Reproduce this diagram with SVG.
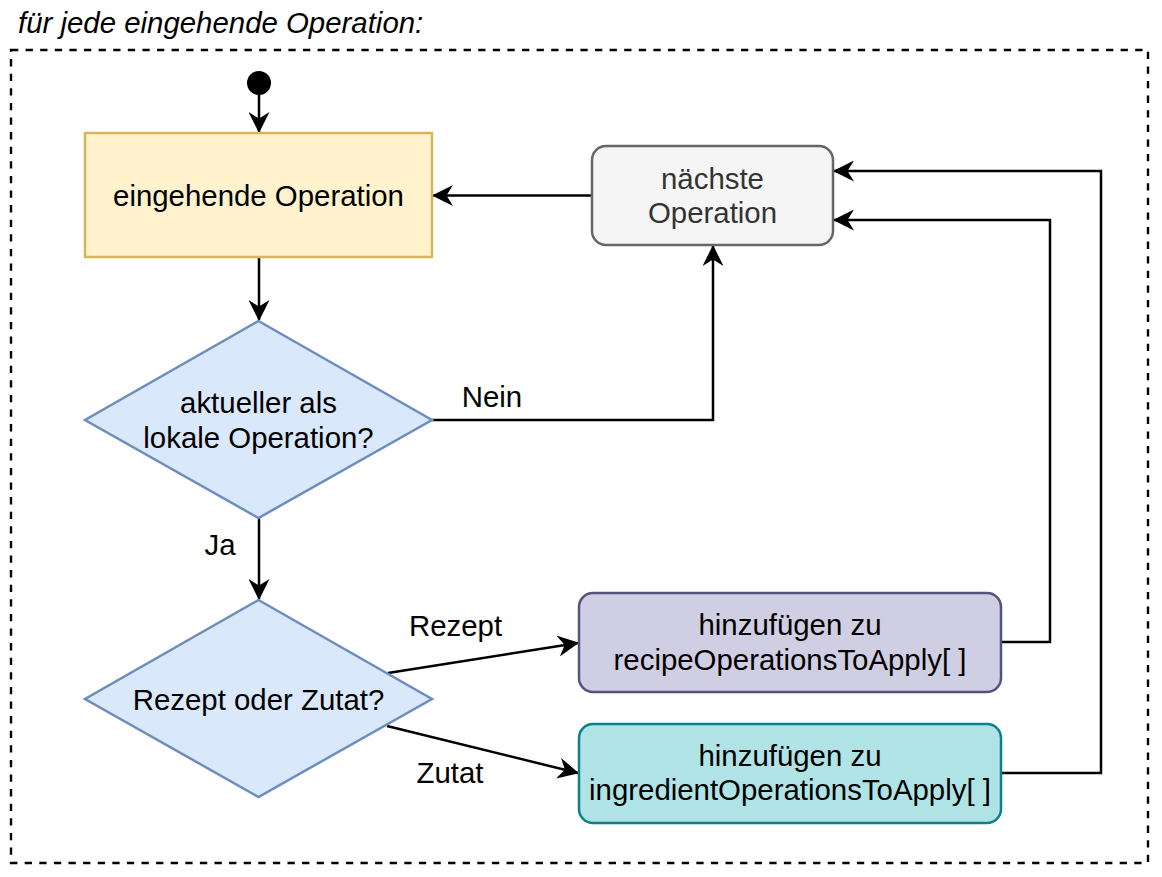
<svg xmlns="http://www.w3.org/2000/svg" width="1162" height="877" viewBox="0 0 1162 877">
<defs>
<style>
text{font-family:"Liberation Sans",Arial,Helvetica,sans-serif;font-size:29.4px;fill:#000;text-anchor:middle}
.title{font-style:italic;text-anchor:start}
.edge{fill:none;stroke:#000;stroke-width:2.5}
.frame{fill:none;stroke:#000;stroke-width:2.4;stroke-dasharray:7.3 7.3}
.node{stroke-width:2.5}
</style>
<marker id="arr" viewBox="0 0 21 21" markerWidth="21" markerHeight="21" refX="20" refY="10.5" orient="auto" markerUnits="userSpaceOnUse">
<path d="M0,0 L21,10.5 L0,21 L6.5,10.5 Z" fill="#000"/>
</marker>
</defs>
<rect width="1162" height="877" fill="#fff"/>
<g id="title">
<text class="title" x="18" y="33">für jede eingehende Operation:</text>
</g>
<g id="frame">
<rect class="frame" x="11" y="50" width="1137" height="813"/>
</g>
<g id="connectors">
<path class="edge" d="M259,95 V132" marker-end="url(#arr)"/>
<path class="edge" d="M259,257 V320" marker-end="url(#arr)"/>
<path class="edge" d="M432,420 H713 V246" marker-end="url(#arr)"/>
<path class="edge" d="M592,195.5 H433" marker-end="url(#arr)"/>
<path class="edge" d="M259,518 V599" marker-end="url(#arr)"/>
<path class="edge" d="M388,673 L578,643" marker-end="url(#arr)"/>
<path class="edge" d="M387,726 L578,773" marker-end="url(#arr)"/>
<path class="edge" d="M1001,642 H1050 V220 H834" marker-end="url(#arr)"/>
<path class="edge" d="M1001,773 H1101 V171 H834" marker-end="url(#arr)"/>
<text x="492" y="407">Nein</text>
<text x="220" y="555">Ja</text>
<text x="455.5" y="636">Rezept</text>
<text x="450" y="783">Zutat</text>
</g>
<g id="start">
<circle cx="259" cy="83" r="12" fill="#000"/>
</g>
<g id="eingehende">
<rect class="node" x="85" y="133" width="347" height="124" fill="#fff2cc" stroke="#d6b656"/>
<text x="258.5" y="206">eingehende Operation</text>
</g>
<g id="naechste">
<rect class="node" x="592" y="146" width="241" height="99" rx="14" fill="#f5f5f5" stroke="#666666"/>
<text x="712.5" y="189" style="fill:#333333">nächste</text>
<text x="712.5" y="223" style="fill:#333333">Operation</text>
</g>
<g id="aktueller">
<polygon class="node" points="258.5,321 432,420 258.5,518 85,420" fill="#dae8fc" stroke="#6c8ebf"/>
<text x="258.5" y="413">aktueller als</text>
<text x="258.5" y="448">lokale Operation?</text>
</g>
<g id="rezeptZutat">
<polygon class="node" points="258.5,600 432,699 258.5,797 85,699" fill="#dae8fc" stroke="#6c8ebf"/>
<text x="258.5" y="710">Rezept oder Zutat?</text>
</g>
<g id="recipe">
<rect class="node" x="579" y="593" width="422" height="99" rx="14" fill="#d0cee2" stroke="#56517e"/>
<text x="790" y="635">hinzufügen zu</text>
<text x="790" y="670">recipeOperationsToApply[ ]</text>
</g>
<g id="ingredient">
<rect class="node" x="579" y="724" width="422" height="99" rx="14" fill="#b0e3e6" stroke="#0e8088"/>
<text x="790" y="766">hinzufügen zu</text>
<text x="790" y="800">ingredientOperationsToApply[ ]</text>
</g>
</svg>
